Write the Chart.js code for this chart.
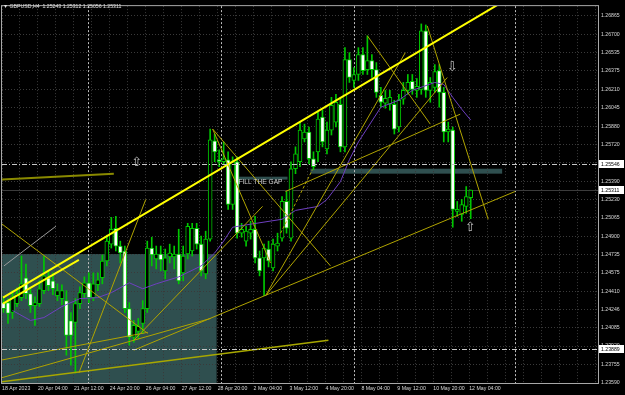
<!DOCTYPE html>
<html>
<head>
<meta charset="utf-8">
<script src="https://cdn.jsdelivr.net/npm/chart.js@4.4.0/dist/chart.umd.min.js"></script>
<style>
html, body { margin: 0; padding: 0; background: #000; }
</style>
</head>
<body>
<canvas id="gbpusdChart" width="625" height="395"></canvas>
<script>
// GBPUSD H4 candles, bar 0 = 18 Apr 2023 20:00
const opens = [1.24307,1.24307,1.24219,1.24298,1.24352,1.24529,1.24387,1.24281,1.24298,1.24414,
  1.24529,1.24502,1.24369,1.24343,1.24325,1.24148,1.24130,1.24298,1.24387,1.24484,
  1.24352,1.24467,1.24529,1.24679,1.24829,1.24971,1.24812,1.24768,1.24254,1.23998,
  1.24051,1.24121,1.24254,1.24794,1.24697,1.24741,1.24591,1.24714,1.24714,1.24741,
  1.24573,1.24741,1.24768,1.24971,1.24829,1.24564,1.24874,1.25750,1.25582,1.25564,
  1.25582,1.25183,1.25564,1.24927,1.24856,1.24927,1.24962,1.24706,1.24706,1.24785,
  1.24617,1.24812,1.24883,1.25210,1.24883,1.25502,1.25564,1.25768,1.25830,1.25591,
  1.25653,1.25962,1.25679,1.25847,1.25918,1.26077,1.25697,1.26476,1.26290,1.26343,
  1.26520,1.26387,1.26467,1.26387,1.26157,1.26086,1.26077,1.26077,1.25874,1.26122,
  1.26201,1.26281,1.26201,1.26210,1.26732,1.26201,1.26228,1.26378,1.26184,1.25830,
  1.25847,1.25122,1.25095,1.25166,1.25243];
const highs = [1.24360,1.24343,1.24414,1.24440,1.24723,1.24652,1.24431,1.24360,1.24502,1.24723,
  1.24591,1.24573,1.24475,1.24467,1.24414,1.24219,1.24343,1.24449,1.24537,1.24573,
  1.24573,1.24573,1.24732,1.24909,1.25068,1.25077,1.24856,1.24812,1.24307,1.24148,
  1.24166,1.24325,1.24856,1.24891,1.24812,1.24812,1.24785,1.24829,1.24812,1.24962,
  1.24812,1.25015,1.25015,1.25015,1.24900,1.24945,1.25856,1.25812,1.25670,1.25741,
  1.25653,1.25608,1.25608,1.25015,1.24989,1.25033,1.25077,1.24768,1.24829,1.24856,
  1.24874,1.24927,1.25254,1.25299,1.25564,1.25697,1.25918,1.25900,1.25874,1.25653,
  1.26007,1.26024,1.25918,1.26139,1.26166,1.26139,1.26582,1.26538,1.26405,1.26582,
  1.26582,1.26688,1.26520,1.26449,1.26228,1.26201,1.26201,1.26113,1.26166,1.26272,
  1.26343,1.26343,1.26307,1.26794,1.26785,1.26316,1.26431,1.26431,1.26228,1.25918,
  1.25874,1.25210,1.25228,1.25343,1.25312];
const lows = [1.24219,1.24121,1.24166,1.24272,1.24325,1.24343,1.24219,1.24104,1.24272,1.24387,
  1.24414,1.24378,1.24325,1.24290,1.23838,1.23750,1.23679,1.24254,1.24352,1.24307,
  1.24325,1.24414,1.24475,1.24635,1.24794,1.24768,1.24661,1.24219,1.23927,1.23953,
  1.23989,1.24033,1.24219,1.24635,1.24608,1.24591,1.24520,1.24661,1.24608,1.24475,
  1.24502,1.24697,1.24723,1.24785,1.24546,1.24520,1.24856,1.25564,1.25520,1.25537,
  1.25139,1.25139,1.24883,1.24891,1.24812,1.24874,1.24661,1.24546,1.24369,1.24626,
  1.24591,1.24768,1.24856,1.24927,1.24856,1.25458,1.25520,1.25741,1.25546,1.25493,
  1.25564,1.25697,1.25635,1.25803,1.25874,1.25653,1.25653,1.26272,1.26228,1.26290,
  1.26343,1.26343,1.26316,1.26139,1.26051,1.26042,1.26024,1.25812,1.25830,1.26077,
  1.26166,1.26166,1.26139,1.26166,1.26139,1.26095,1.26184,1.26051,1.25741,1.25741,
  1.24980,1.25077,1.25033,1.25104,1.25056];
const closes = [1.24254,1.24210,1.24360,1.24387,1.24475,1.24387,1.24281,1.24307,1.24431,1.24546,
  1.24458,1.24431,1.24414,1.24414,1.24015,1.24015,1.24298,1.24396,1.24484,1.24352,
  1.24475,1.24511,1.24679,1.24856,1.24962,1.24812,1.24750,1.24254,1.23998,1.24104,
  1.24095,1.24254,1.24794,1.24732,1.24741,1.24688,1.24706,1.24750,1.24741,1.24502,
  1.24723,1.24989,1.24971,1.24829,1.24591,1.24874,1.25759,1.25653,1.25564,1.25591,
  1.25183,1.25564,1.24927,1.24962,1.24945,1.24962,1.24706,1.24591,1.24794,1.24679,
  1.24829,1.24838,1.25210,1.24971,1.25502,1.25635,1.25847,1.25830,1.25591,1.25520,
  1.25945,1.25741,1.25847,1.26068,1.26095,1.25697,1.26476,1.26316,1.26343,1.26520,
  1.26378,1.26467,1.26387,1.26184,1.26095,1.26130,1.26139,1.25856,1.26113,1.26201,
  1.26272,1.26210,1.26237,1.26732,1.26201,1.26272,1.26369,1.26184,1.25830,1.25856,
  1.25139,1.25139,1.25183,1.25254,1.25311];

// moving average (bar index / price)
const maIdx = [2, 6, 9, 13, 17, 21, 24, 28, 31, 34, 39, 44, 47, 49, 51, 55, 62, 65, 70, 72, 75, 77, 79, 84, 88, 91, 96, 98, 100, 102, 104];
const maVals = [1.24237, 1.24148, 1.24174, 1.24272, 1.24343, 1.24352, 1.24396, 1.24484, 1.24431, 1.24475,
  1.24537, 1.24635, 1.24750, 1.24856, 1.24980, 1.25007, 1.25051, 1.25130, 1.25166, 1.25228,
  1.25387, 1.25582, 1.25741, 1.26051, 1.26113, 1.26201, 1.26272, 1.26254, 1.26139, 1.26033, 1.25936];

// axis labels
const xLabels = ['18 Apr 2023', '20 Apr 04:00', '21 Apr 12:00', '24 Apr 20:00', '26 Apr 04:00', '27 Apr 12:00',
  '28 Apr 20:00', '2 May 04:00', '3 May 12:00', '4 May 20:00', '8 May 04:00', '9 May 12:00', '10 May 20:00', '12 May 04:00'];
const yTicks = [1.26865, 1.26700, 1.26535, 1.26375, 1.26210, 1.26045, 1.25880, 1.25720, 1.25555, 1.25390, 1.25230,
  1.25065, 1.24900, 1.24735, 1.24575, 1.24410, 1.24246, 1.24085, 1.23920, 1.23755, 1.23590];

// drawn objects: [fromIdx, fromPrice, toIdx, toPrice]
const channelLines = [
  [-0.11, 1.24352, 109.89, 1.26962],
  [-0.11, 1.24298, 16.78, 1.24688]
];
const thinLines = [
  [-0.56, 1.25015, 32.11, 1.24033],
  [-0.56, 1.23794, 32.11, 1.24042],
  [-0.56, 1.23635, 46.11, 1.24166],
  [16.78, 1.23679, 31.67, 1.25228],
  [29, 1.23883, 113.89, 1.25299],
  [29, 1.23971, 57.67, 1.25166],
  [46.56, 1.25856, 72.78, 1.24635],
  [46.56, 1.25856, 59.44, 1.24661],
  [58.33, 1.24369, 89.44, 1.26538],
  [58.33, 1.24369, 98.78, 1.26316],
  [62.78, 1.25299, 101.67, 1.25989],
  [81, 1.26688, 95, 1.25900],
  [94.33, 1.26776, 107.89, 1.25051]
];
const baseLine = [-0.56, 1.23599, 72.33, 1.23971];
const oldLevel = [-0.56, 1.25405, 24.56, 1.25458];
const greyLine = [0.11, 1.24635, 11.67, 1.24989];
const dashedLine = [61.67, 1.24927, 68.78, 1.25493];

// rectangles: [fromIdx, topPrice, toIdx, bottomPrice]
const zones = [
  [-1, 1.24741, 47.44, 1.2300],
  [68.33, 1.25502, 111, 1.25458],
  [51.89, 1.25431, 63.22, 1.25405]
];
const levels = [1.25546, 1.23889];
const separators = [18.7, 48.5, 78.1, 113.9];
const arrows = [[29.67, 1.25555, '\u21E7'], [99.9, 1.26405, '\u21E9'], [103.9, 1.24980, '\u21E7']];
const gapNote = [52.3, 1.25383, 'FILL THE GAP'];

const last = closes.length - 1;
const bars = closes.map((_, i) => i);
const gridIdx = [];
for (let k = 0; k * 4 - 1 / 3 <= 132.3; k++) gridIdx.push(k * 4 - 1 / 3);

const font = { family: 'Liberation Sans', size: 5.2 };
const green = '#00c800';

function toPx(chart, i, p) {
  return { x: chart.scales.x.getPixelForValue(i), y: chart.scales.y.getPixelForValue(p) };
}

function clipArea(chart) {
  const a = chart.chartArea;
  chart.ctx.beginPath();
  chart.ctx.rect(a.left, a.top, a.right - a.left, a.bottom - a.top);
  chart.ctx.clip();
}

function segment(seg, color, width, dash) {
  return {
    type: 'line',
    data: [{ x: seg[0], y: seg[1] }, { x: seg[2], y: seg[3] }],
    borderColor: color,
    borderWidth: width,
    borderDash: dash || [],
    pointRadius: 0,
    order: 0
  };
}

// background: black, zones and separators, under the grid
const backdrop = {
  id: 'backdrop',
  beforeDraw(chart) {
    const { ctx, chartArea: a } = chart;
    ctx.save();
    ctx.fillStyle = '#000';
    ctx.fillRect(0, 0, chart.width, chart.height);
    clipArea(chart);
    ctx.fillStyle = '#2f4f4f';
    zones.forEach(z => {
      const p1 = toPx(chart, z[0], z[1]), p2 = toPx(chart, z[2], z[3]);
      ctx.fillRect(p1.x, p1.y, p2.x - p1.x, p2.y - p1.y);
    });
    ctx.strokeStyle = '#bdbdbd';
    ctx.lineWidth = 1;
    ctx.setLineDash([2, 2]);
    separators.forEach(s => {
      const x = Math.round(toPx(chart, s, 0).x) + 0.5;
      ctx.beginPath();
      ctx.moveTo(x, a.top);
      ctx.lineTo(x, a.bottom);
      ctx.stroke();
    });
    // bid line
    ctx.setLineDash([]);
    ctx.strokeStyle = '#3c3c3c';
    const yb = Math.round(toPx(chart, 0, closes[last]).y) + 0.5;
    ctx.beginPath();
    ctx.moveTo(a.left, yb);
    ctx.lineTo(a.right, yb);
    ctx.stroke();
    ctx.restore();
  },
  afterDatasetsDraw(chart) {
    const { ctx, chartArea: a } = chart;
    ctx.save();
    clipArea(chart);
    ctx.strokeStyle = '#c8c8c8';
    ctx.lineWidth = 1;
    ctx.setLineDash([5, 2, 1, 2]);
    levels.forEach(p => {
      const y = Math.round(toPx(chart, 0, p).y) + 0.5;
      ctx.beginPath();
      ctx.moveTo(a.left, y);
      ctx.lineTo(a.right, y);
      ctx.stroke();
    });
    ctx.setLineDash([]);
    ctx.fillStyle = '#bcbcbc';
    ctx.font = '13px "DejaVu Sans"';
    ctx.textAlign = 'center';
    ctx.textBaseline = 'middle';
    arrows.forEach(ar => {
      const p = toPx(chart, ar[0], ar[1]);
      ctx.fillText(ar[2], p.x, p.y);
    });
    const g = toPx(chart, gapNote[0], gapNote[1]);
    ctx.fillStyle = '#cfcfcf';
    ctx.font = '6.6px "Liberation Sans"';
    ctx.textAlign = 'left';
    ctx.fillText(gapNote[2], g.x, g.y);
    ctx.restore();
  },
  afterDraw(chart) {
    const { ctx, chartArea: a } = chart;
    ctx.save();
    ctx.strokeStyle = '#a8a8a8';
    ctx.lineWidth = 1;
    ctx.strokeRect(a.left - 0.5, a.top - 0.5, a.right - a.left + 1, a.bottom - a.top + 1);
    ctx.font = '5.2px "Liberation Sans"';
    ctx.textBaseline = 'middle';
    ctx.textAlign = 'left';
    [levels[0], closes[last], levels[1]].forEach(p => {
      const y = Math.round(toPx(chart, 0, p).y);
      ctx.fillStyle = '#ffffff';
      ctx.fillRect(a.right + 1, y - 4, 25, 8);
      ctx.fillStyle = '#000000';
      ctx.fillText(p.toFixed(5), a.right + 3, y + 0.5);
    });
    ctx.fillStyle = '#e0e0e0';
    ctx.fillText('\u25BC GBPUSD,H4  ' + [opens[last], highs[last], lows[last], closes[last]].map(v => v.toFixed(5)).join(' '), 3, 6.5);
    ctx.restore();
  }
};

const datasets = [
  ...channelLines.map(s => segment(s, '#ffff00', 2)),
  ...thinLines.map(s => segment(s, '#b0a400', 1)),
  segment(baseLine, '#a8a800', 1.5),
  segment(oldLevel, '#8a8a00', 2),
  segment(greyLine, '#9a9a9a', 1),
  segment(dashedLine, '#b0a400', 1, [3, 2]),
  {
    type: 'line',
    data: maIdx.map((v, k) => ({ x: v, y: maVals[k] })),
    borderColor: '#6e3fc0',
    borderWidth: 1,
    pointRadius: 0,
    order: 1
  },
  {
    type: 'bar',
    data: bars.map(i => ({ x: i, y: [opens[i], closes[i]] })),
    backgroundColor: bars.map(i => closes[i] >= opens[i] ? '#000000' : '#ffffff'),
    borderColor: green,
    borderWidth: 1,
    borderSkipped: false,
    barThickness: 4,
    minBarLength: 1,
    grouped: false,
    order: 2
  },
  {
    type: 'bar',
    data: bars.map(i => ({ x: i, y: [lows[i], highs[i]] })),
    backgroundColor: green,
    barThickness: 1,
    grouped: false,
    order: 3
  }
];

new Chart('gbpusdChart', {
  type: 'bar',
  data: { datasets },
  plugins: [backdrop],
  options: {
    responsive: false,
    animation: false,
    events: [],
    layout: { padding: { left: 1, top: 3, right: 0, bottom: 0 } },
    plugins: { legend: { display: false }, tooltip: { enabled: false } },
    scales: {
      x: {
        type: 'linear',
        min: -1 / 3,
        max: 132.3333,
        offset: false,
        afterBuildTicks: s => { s.ticks = gridIdx.map(v => ({ value: v })); },
        afterFit: s => { s.height = 12; },
        grid: { color: '#3a3a3a', drawTicks: false, offset: false },
        border: { display: false, dash: [1, 2] },
        ticks: {
          color: '#d8d8d8', font, padding: 2, align: 'start', maxRotation: 0, autoSkip: false,
          callback: (v, n) => n % 2 === 0 ? (xLabels[n / 2] || '') : ''
        }
      },
      y: {
        type: 'linear',
        position: 'right',
        min: 1.2359,
        max: 1.26953,
        afterBuildTicks: s => { s.ticks = yTicks.map(v => ({ value: v })); },
        afterFit: s => { s.width = 27; },
        grid: { color: '#3a3a3a', drawTicks: false },
        border: { display: false, dash: [1, 2] },
        ticks: { color: '#d8d8d8', font, padding: 3, autoSkip: false, callback: v => v.toFixed(5) }
      }
    }
  }
});
</script>
</body>
</html>
